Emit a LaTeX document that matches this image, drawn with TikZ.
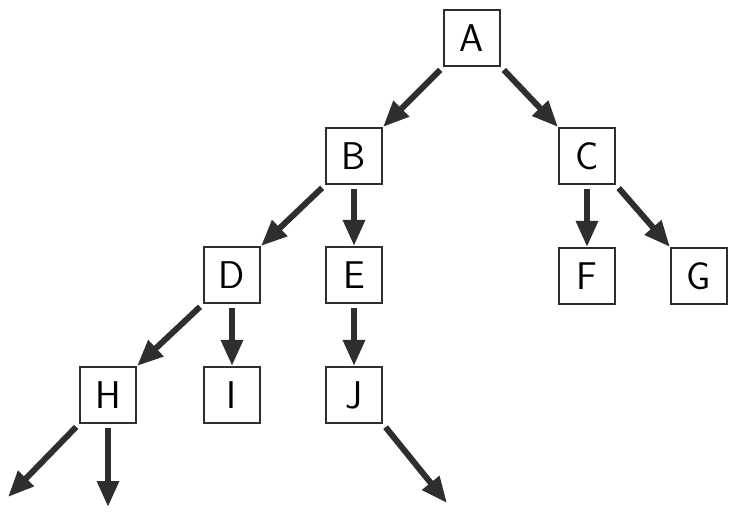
\documentclass[tikz,border=0pt]{standalone}
\usepackage{xcolor}
\usepackage{tikz}
\usetikzlibrary{arrows.meta,positioning,calc}
\definecolor{ink}{HTML}{2E2E2E}
\tikzset{
  box/.style={rectangle, draw=ink, line width=1.2pt, fill=white, inner sep=0pt,
              minimum width=1.12cm, minimum height=1.12cm,
              font=\fontsize{22}{24}\selectfont\sffamily},
  arr/.style={-{Triangle[length=0.52cm, width=0.42cm]}, line width=0.12cm, draw=ink,
              shorten <=0.08cm},
}
\begin{document}
\begin{tikzpicture}[x=0.02cm, y=-0.02cm]
    \useasboundingbox (0,0) rectangle (730,514);
    \node[box] (A) at (472,38) {A};
    \node[box] (B) at (354,156) {B};
    \node[box] (C) at (587,156) {C};
    \node[box] (D) at (232,275) {D};
    \node[box] (E) at (354,275) {E};
    \node[box] (F) at (587,276) {F};
    \node[box] (G) at (699,276) {G};
    \node[box] (H) at (108,395) {H};
    \node[box] (I) at (232,395) {I};
    \node[box] (J) at (354,395) {J};
    \coordinate (h1) at (8,497);
    \coordinate (h2) at (108,507);
    \coordinate (j1) at (447,503);
    \draw[arr] (A.south west) -- (B.north east);
    \draw[arr] (A.south east) -- (C.north west);
    \draw[arr] (B.south west) -- (D.north east);
    \draw[arr] (B.south) -- (E.north);
    \draw[arr] (C.south) -- (F.north);
    \draw[arr] (C.south east) -- (G.north west);
    \draw[arr] (D.south west) -- (H.north east);
    \draw[arr] (D.south) -- (I.north);
    \draw[arr] (E.south) -- (J.north);
    \draw[arr] (H.south west) -- (h1);
    \draw[arr] (H.south) -- (h2);
    \draw[arr] (J.south east) -- (j1);
  \end{tikzpicture}
\end{document}
